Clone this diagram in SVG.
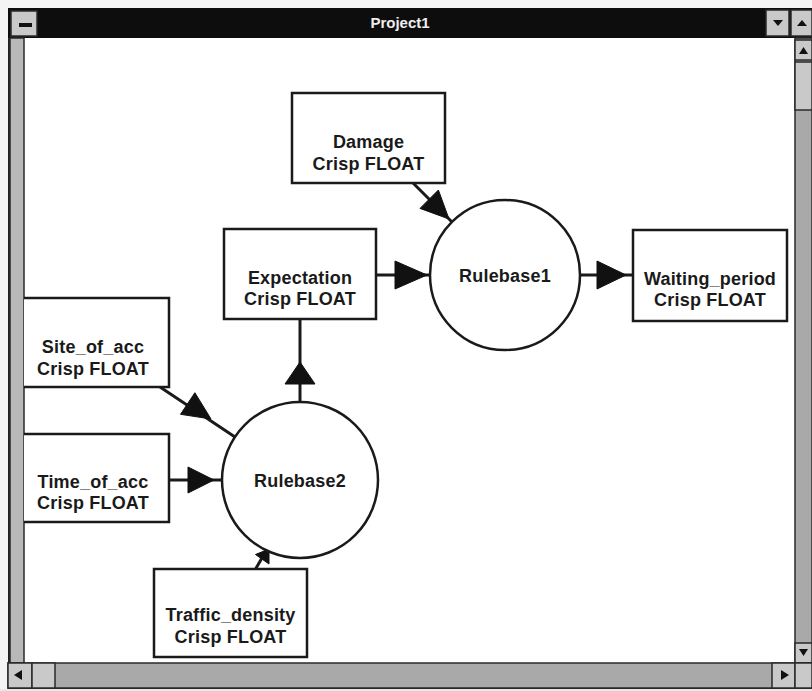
<svg xmlns="http://www.w3.org/2000/svg" width="812" height="691" viewBox="0 0 812 691">
<style>
.box{fill:#fff;stroke:#1a1a1a;stroke-width:2.5}
.circ{fill:#fff;stroke:#1a1a1a;stroke-width:2.5}
.lbl{font-family:"Liberation Sans",Arial,sans-serif;font-weight:bold;font-size:18px;letter-spacing:0.2px;fill:#1a1a1a;text-anchor:middle}
.edge{stroke:#1a1a1a;stroke-width:3;fill:none}
.head{fill:#111;stroke:#111;stroke-width:1;stroke-linejoin:round}
.btn{fill:#c9c9c9;stroke:#2a2a2a;stroke-width:1.5}
.trk{fill:#a9a9a9;stroke:#2a2a2a;stroke-width:1.5}
.glyph{fill:#111}
</style>
<rect x="0" y="0" width="812" height="691" fill="#f4f4f4"/>
<g id="window">
  <rect x="8" y="8" width="804" height="682" fill="#222"/>
  <rect x="8" y="8" width="804" height="30" fill="#0d0d0d"/>
  <rect x="11" y="11" width="26" height="25" class="btn"/>
  <rect x="19" y="23" width="13" height="4" class="glyph"/>
  <text x="400" y="28" font-family="Liberation Sans,Arial,sans-serif" font-weight="bold" font-size="15" fill="#eee" text-anchor="middle">Project1</text>
  <rect x="766" y="10" width="23" height="26" class="btn"/>
  <polygon points="773,20 783,20 778,26" class="glyph"/>
  <rect x="791" y="10" width="21" height="26" class="btn"/>
  <polygon points="797,26 807,26 802,20" class="glyph"/>
  <rect x="24" y="38" width="771" height="625" fill="#fff"/>
  <rect x="10" y="38" width="14" height="625" fill="#b8b8b8" stroke="#2a2a2a" stroke-width="1.5"/>
  <rect x="795" y="38" width="17" height="625" class="trk"/>
  <rect x="795" y="40" width="17" height="20" class="btn"/>
  <polygon points="799,54 808,54 803.5,47" class="glyph"/>
  <rect x="795" y="62" width="17" height="48" class="btn"/>
  <rect x="795" y="643" width="17" height="20" class="btn"/>
  <polygon points="799,649 808,649 803.5,656" class="glyph"/>
  <rect x="8" y="663" width="804" height="25" class="trk"/>
  <rect x="8" y="663" width="24" height="25" class="btn"/>
  <polygon points="14,675 22,670 22,680" class="glyph"/>
  <rect x="32" y="663" width="23" height="25" class="btn"/>
  <rect x="772" y="663" width="23" height="25" class="btn"/>
  <polygon points="789,675 781,670 781,680" class="glyph"/>
  <rect x="795" y="663" width="17" height="25" class="btn"/>
  <rect x="0" y="689" width="812" height="2" fill="#e8e8e8"/>
</g>
<svg x="24" y="38" width="771" height="625" viewBox="24 38 771 625" overflow="hidden">
<g id="connectors">
  <line x1="413" y1="183" x2="452" y2="222" class="edge"/>
  <polygon points="449,219 420,208.4 438.4,190" class="head"/>
  <line x1="376" y1="275" x2="430" y2="275" class="edge"/>
  <polygon points="427,275 395,261 395,289" class="head"/>
  <line x1="580" y1="275" x2="633" y2="275" class="edge"/>
  <polygon points="626,275 597,261 597,289" class="head"/>
  <line x1="300" y1="402" x2="300" y2="319" class="edge"/>
  <polygon points="300,362 285,384 315,384" class="head"/>
  <line x1="160" y1="387" x2="235" y2="437" class="edge"/>
  <polygon points="211,419 180.5,414.3 194.9,392.7" class="head"/>
  <line x1="169" y1="480" x2="222" y2="480" class="edge"/>
  <polygon points="214,480 188,467 188,493" class="head"/>
  <line x1="255" y1="570" x2="266" y2="551" class="edge"/>
  <polygon points="269,549 255.5,554.5 269,564" class="head"/>
</g>
<g id="Damage">
  <rect x="292" y="93" width="153" height="90" class="box"/>
  <text x="368.5" y="148" class="lbl">Damage</text>
  <text x="368.5" y="170" class="lbl">Crisp FLOAT</text>
</g>
<g id="Expectation">
  <rect x="224" y="229" width="152" height="90" class="box"/>
  <text x="300" y="284" class="lbl">Expectation</text>
  <text x="300" y="305" class="lbl">Crisp FLOAT</text>
</g>
<g id="Rulebase1">
  <circle cx="505" cy="275" r="75" class="circ"/>
  <text x="505" y="282" class="lbl">Rulebase1</text>
</g>
<g id="Waiting_period">
  <rect x="633" y="230" width="154" height="91" class="box"/>
  <text x="710" y="285" class="lbl">Waiting_period</text>
  <text x="710" y="306" class="lbl">Crisp FLOAT</text>
</g>
<g id="Site_of_acc">
  <rect x="17" y="298" width="152" height="89" class="box"/>
  <text x="93" y="353" class="lbl">Site_of_acc</text>
  <text x="93" y="375" class="lbl">Crisp FLOAT</text>
</g>
<g id="Time_of_acc">
  <rect x="17" y="434" width="152" height="88" class="box"/>
  <text x="93" y="488" class="lbl">Time_of_acc</text>
  <text x="93" y="509" class="lbl">Crisp FLOAT</text>
</g>
<g id="Rulebase2">
  <circle cx="300" cy="480" r="78" class="circ"/>
  <text x="300" y="487" class="lbl">Rulebase2</text>
</g>
<g id="Traffic_density">
  <rect x="154" y="569" width="153" height="88" class="box"/>
  <text x="230.5" y="621" class="lbl">Traffic_density</text>
  <text x="230.5" y="643" class="lbl">Crisp FLOAT</text>
</g>
</svg>
</svg>
